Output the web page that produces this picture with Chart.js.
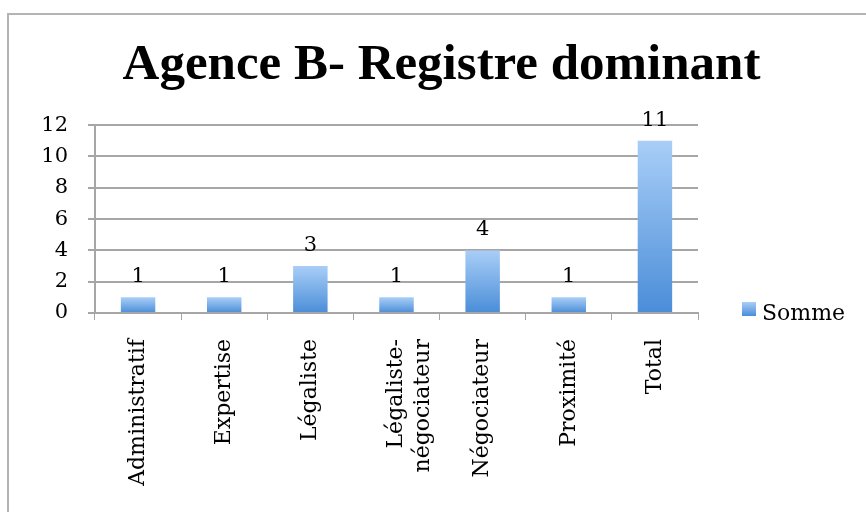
<!DOCTYPE html>
<html>
<head>
<meta charset="utf-8">
<script src="https://cdn.jsdelivr.net/npm/chart.js@4.4.1/dist/chart.umd.min.js"></script>
<style>
  html, body { margin: 0; padding: 0; background: #fff; overflow: hidden; }
  #frame { position: absolute; left: 7px; top: 13px; width: 900px; height: 600px; border: 2px solid #b4b4b4; box-sizing: border-box; }
  #wrap { position: absolute; left: 0; top: 0; width: 866px; height: 512px; }
</style>
</head>
<body>
<div id="frame"></div>
<div id="wrap"><canvas id="chart" width="866" height="512"></canvas></div>
<script>
const categories = ['Administratif', 'Expertise', 'Légaliste', ['Légaliste-', 'négociateur'], 'Négociateur', 'Proximité', 'Total'];
const sommeValues = [1, 1, 3, 1, 4, 1, 11];
const seriesLabel = 'Somme';
const chartTitle = 'Agence B- Registre dominant';

const serif = "'DejaVu Serif', 'Liberation Serif', serif";
const titleFont = "'Liberation Serif', serif";

function barGradient(ctx, top, bottom) {
    const g = ctx.createLinearGradient(0, top, 0, bottom);
    g.addColorStop(0, '#a9cef7');
    g.addColorStop(1, '#4a8dd8');
    return g;
}

// value labels above each bar
const valueLabels = {
    id: 'valueLabels',
    afterDatasetsDraw(chart) {
        const ctx = chart.ctx;
        const meta = chart.getDatasetMeta(0);
        ctx.save();
        ctx.font = '21px ' + serif;
        ctx.fillStyle = '#000';
        ctx.textAlign = 'center';
        ctx.textBaseline = 'bottom';
        meta.data.forEach((bar, i) => {
            ctx.fillText(String(sommeValues[i]), bar.x, bar.y - 10);
        });
        ctx.restore();
    }
};

// legend on the right, level with the axis
const sideLegend = {
    id: 'sideLegend',
    afterDraw(chart) {
        const ctx = chart.ctx;
        const y = chart.scales.y.getPixelForValue(0);
        ctx.save();
        ctx.fillStyle = barGradient(ctx, y - 11, y + 3);
        ctx.fillRect(742, y - 11, 14, 14);
        ctx.font = '22px ' + serif;
        ctx.fillStyle = '#000';
        ctx.textBaseline = 'alphabetic';
        ctx.fillText(seriesLabel, 762, y + 7);
        ctx.restore();
    }
};

const ctx = document.getElementById('chart').getContext('2d');
const chart = new Chart(ctx, {
    type: 'bar',
    data: {
        labels: categories,
        datasets: [{
            label: seriesLabel,
            data: sommeValues,
            barPercentage: 0.4,
            categoryPercentage: 1,
            backgroundColor: (c) => {
                const ch = c.chart;
                if (!ch.scales || !ch.scales.y || c.raw === undefined) return '#7aaee8';
                const top = ch.scales.y.getPixelForValue(c.raw);
                const bottom = ch.scales.y.getPixelForValue(0);
                if (!isFinite(top) || !isFinite(bottom) || top === bottom) return '#7aaee8';
                return barGradient(ch.ctx, top, bottom);
            }
        }]
    },
    options: {
        responsive: false,
        animation: false,
        layout: { padding: { left: 17, right: 0, top: 0, bottom: 0 } },
        plugins: {
            legend: { display: false },
            tooltip: { enabled: false },
            title: {
                display: true,
                text: chartTitle,
                color: '#000',
                font: { family: titleFont, size: 51, weight: 'bold' },
                padding: { top: 35, bottom: 29 }
            }
        },
        scales: {
            x: {
                offset: true,
                grid: { display: true, drawOnChartArea: false, offset: true, color: '#a6a6a6', tickLength: 7 },
                border: { color: '#a6a6a6', width: 2 },
                ticks: {
                    color: '#000',
                    font: { family: serif, size: 22 },
                    minRotation: 90,
                    maxRotation: 90,
                    autoSkip: false,
                    padding: 19
                },
                afterFit(scale) { scale.height = 199; }
            },
            y: {
                min: 0,
                max: 12,
                ticks: { stepSize: 2, color: '#000', font: { family: serif, size: 21 }, padding: 20 },
                grid: { color: '#a6a6a6', lineWidth: 2, tickLength: 7 },
                border: { color: '#a6a6a6', width: 2 },
                afterFit(scale) { scale.width = 78; }
            },
            // empty right-hand axis that keeps room for the legend
            legendSpace: {
                type: 'linear',
                position: 'right',
                display: true,
                grid: { display: false },
                border: { display: false },
                ticks: { display: false },
                afterFit(scale) { scale.width = 168; }
            }
        }
    },
    plugins: [valueLabels, sideLegend]
});
chart.update();
</script>
</body>
</html>
